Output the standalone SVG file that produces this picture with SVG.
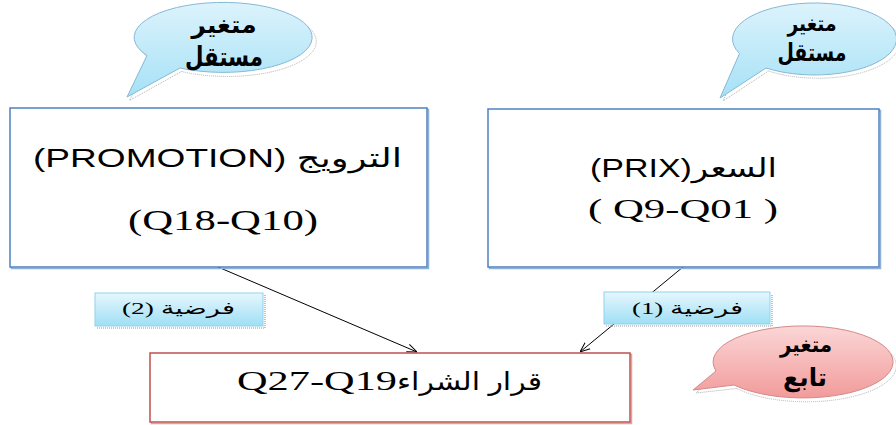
<svg xmlns="http://www.w3.org/2000/svg" width="896" height="425" viewBox="0 0 896 425">
  <defs>
    <linearGradient id="gBlue" x1="0" y1="0" x2="0" y2="1">
      <stop offset="0" stop-color="#dcf3fc"/>
      <stop offset="1" stop-color="#a6e1f6"/>
    </linearGradient>
    <linearGradient id="gLabel" x1="0" y1="0" x2="0" y2="1">
      <stop offset="0" stop-color="#e6f7fd"/>
      <stop offset="1" stop-color="#9fdff5"/>
    </linearGradient>
    <linearGradient id="gRed" x1="0" y1="0" x2="0" y2="1">
      <stop offset="0" stop-color="#fbd6d6"/>
      <stop offset="1" stop-color="#f29b9b"/>
    </linearGradient>
    <marker id="arrow" viewBox="0 0 10 10" refX="10" refY="5" markerWidth="10" markerHeight="10" markerUnits="userSpaceOnUse" orient="auto">
      <path d="M0,1 L10,5 L0,9" fill="none" stroke="#000" stroke-width="1"/>
    </marker>
  </defs>
  <style>
    .box { fill: #ffffff; stroke: #4f81bd; stroke-width: 1.5; }
    .boxShadow { fill: none; stroke: #8fb0da; stroke-width: 1.5; }
    .redBox { fill: #ffffff; stroke: #c0504d; stroke-width: 1.5; }
    .redShadow { fill: none; stroke: #dba3a1; stroke-width: 1.5; }
    .sans { font-family: "Liberation Sans", Arial, "DejaVu Sans", sans-serif; fill: #000; }
    .serif { font-family: "Liberation Serif", "Times New Roman", "DejaVu Serif", serif; fill: #000; }
    .bubbleText { font-family: "DejaVu Sans", "Liberation Sans", sans-serif; font-weight: bold; fill: #000; text-anchor: middle; }
    .edge { stroke: #000; stroke-width: 1; fill: none; marker-end: url(#arrow); }
    .label { fill: url(#gLabel); stroke: #8fd3ee; stroke-width: 1; }
    .labelShadow { fill: none; stroke: #9a9a9a; stroke-width: 1.2; stroke-dasharray: 1 1; }
    .bubbleBlue { fill: url(#gBlue); stroke: #86b9d4; stroke-width: 1; }
    .bubbleRed { fill: url(#gRed); stroke: #d48a8a; stroke-width: 1; }
    .bubbleShadow { fill: none; stroke: #b0b0b0; stroke-width: 1; stroke-dasharray: 1 1; }
  </style>

  <!-- connectors -->
  <g id="connectors">
    <line class="edge" x1="218" y1="267" x2="417" y2="352"/>
    <line class="edge" x1="683" y1="267" x2="580" y2="352"/>
  </g>

  <!-- hypothesis labels on the connectors -->
  <g id="label-h2">
    <path class="labelShadow" d="M97,328 H265 V295"/>
    <rect class="label" x="95" y="293" width="168" height="33"/>
    <text x="122" y="314" font-size="17" textLength="113" lengthAdjust="spacingAndGlyphs"><tspan class="serif">(2) </tspan><tspan class="sans">فرضية</tspan></text>
  </g>
  <g id="label-h1">
    <path class="labelShadow" d="M606,326 H772 V294"/>
    <rect class="label" x="604" y="292" width="166" height="32"/>
    <text x="632" y="314" font-size="17" textLength="111" lengthAdjust="spacingAndGlyphs"><tspan class="serif">(1) </tspan><tspan class="sans">فرضية</tspan></text>
  </g>

  <!-- independent variable: promotion -->
  <g id="node-promotion">
    <rect class="boxShadow" x="11.5" y="109.5" width="417" height="159"/>
    <rect class="box" x="10" y="108" width="417" height="159"/>
    <text class="sans" x="33" y="167" font-size="26" textLength="369" lengthAdjust="spacingAndGlyphs">(PROMOTION) الترويج</text>
    <text class="serif" x="128" y="230" font-size="29" textLength="190" lengthAdjust="spacingAndGlyphs">(Q18-Q10)</text>
  </g>

  <!-- independent variable: price -->
  <g id="node-price">
    <rect class="boxShadow" x="489.5" y="110.5" width="391" height="158"/>
    <rect class="box" x="488" y="109" width="391" height="158"/>
    <text class="sans" x="590" y="177" font-size="26" textLength="187" lengthAdjust="spacingAndGlyphs">(PRIX)السعر</text>
    <text class="serif" x="588" y="218" font-size="28" textLength="190" lengthAdjust="spacingAndGlyphs">( Q9-Q01 )</text>
  </g>

  <!-- dependent variable: purchase decision -->
  <g id="node-decision">
    <rect class="redShadow" x="151.5" y="354.5" width="480" height="69"/>
    <rect class="redBox" x="150" y="353" width="480" height="69"/>
    <text class="serif" x="237" y="390" font-size="27" textLength="160" lengthAdjust="spacingAndGlyphs">Q27-Q19</text>
    <text class="sans" x="397" y="390" font-size="25" textLength="145" lengthAdjust="spacingAndGlyphs">قرار الشراء</text>
  </g>

  <!-- callout bubbles -->
  <g id="callout-left">
    <path class="bubbleShadow" d="M180,70 L128,99 L148,57 A89 35 0 1 1 180,70 Z" transform="translate(1.5,1.5)"/>
    <path class="bubbleBlue" d="M180,68 L127,97 L147,55.5 A89 35 0 1 1 180,68 Z"/>
    <text class="bubbleText" x="224" y="33" font-size="24" textLength="65" lengthAdjust="spacingAndGlyphs">متغير</text>
    <text class="bubbleText" x="224" y="66" font-size="27" textLength="78" lengthAdjust="spacingAndGlyphs">مستقل</text>
  </g>

  <g id="callout-right">
    <path class="bubbleShadow" d="M767,69.5 L721.5,99.5 L741,55 A82 36 0 1 1 767,69.5 Z" transform="translate(1.5,1.5)"/>
    <path class="bubbleBlue" d="M766,68 L720,98 L739.5,53.5 A82 36 0 1 1 766,68 Z"/>
    <text class="bubbleText" x="812" y="31" font-size="22" textLength="49" lengthAdjust="spacingAndGlyphs">متغير</text>
    <text class="bubbleText" x="812" y="61" font-size="25" textLength="69" lengthAdjust="spacingAndGlyphs">مستقل</text>
  </g>

  <g id="callout-dependent">
    <path class="bubbleShadow" d="M735,387 L694.5,391.5 L717.5,373 A90 36 0 1 1 735,387 Z" transform="translate(1.5,1.5)"/>
    <path class="bubbleRed" d="M734,385 L693,390 L716,371 A90 36 0 1 1 734,385 Z"/>
    <text class="bubbleText" x="806" y="352" font-size="22" textLength="52" lengthAdjust="spacingAndGlyphs">متغير</text>
    <text class="bubbleText" x="805" y="386" font-size="25" textLength="44" lengthAdjust="spacingAndGlyphs">تابع</text>
  </g>
</svg>
